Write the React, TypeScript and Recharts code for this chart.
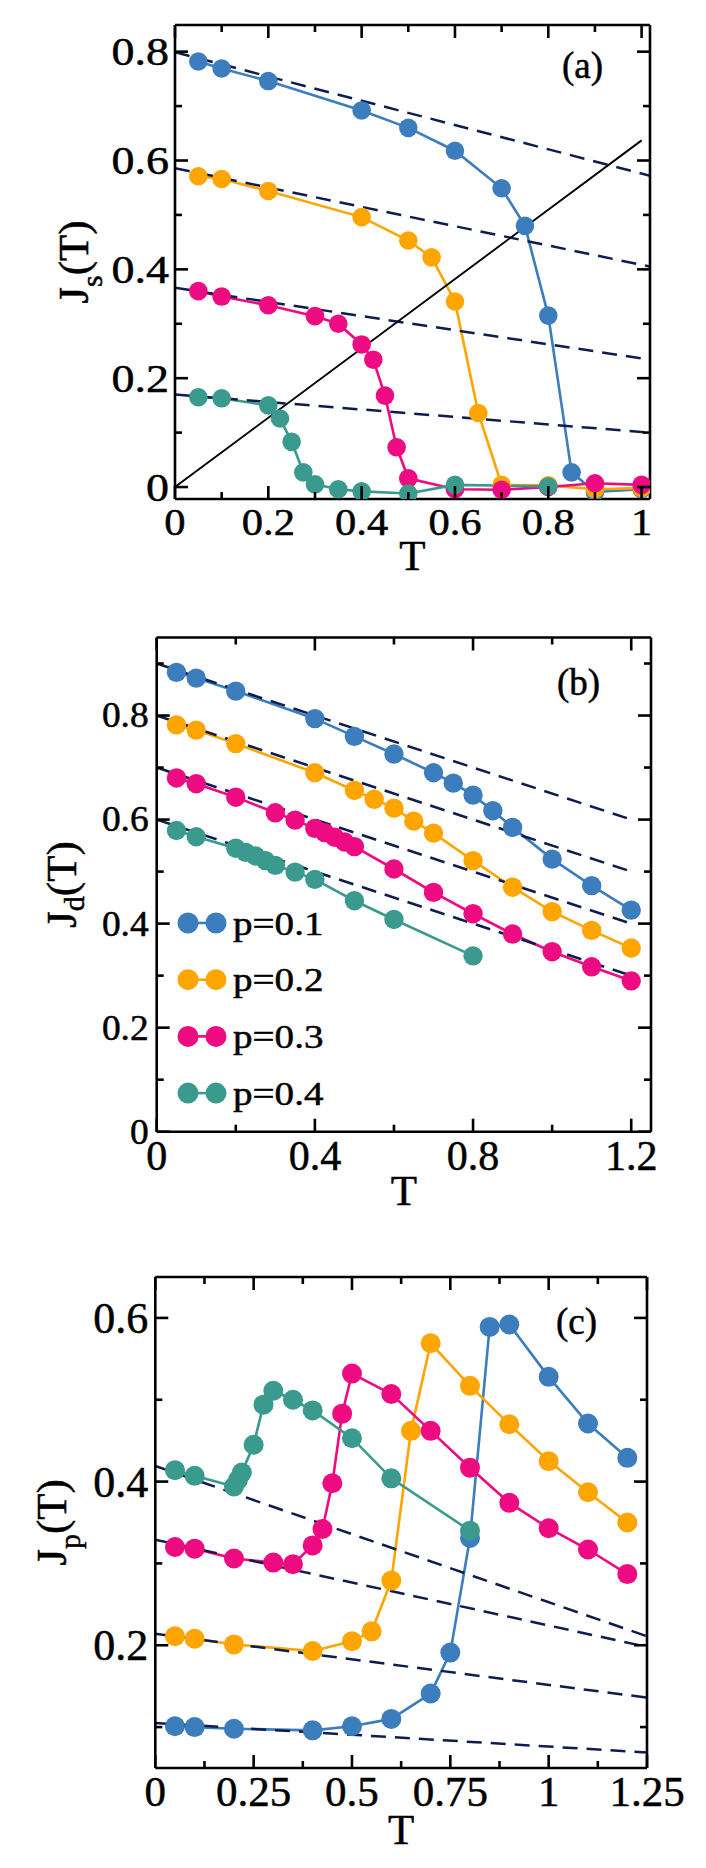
import React from 'react';
import { LineChart, Line, XAxis, YAxis, Legend } from 'recharts';

const FONT = "'Liberation Serif', 'Times New Roman', Times, serif";
const COLORS = ['#3b7dbd', '#ffa500', '#ee0a80', '#3a9a8e'];
const NAVY = '#0d1d4f';
const SERIES = ['p=0.1', 'p=0.2', 'p=0.3', 'p=0.4'];

// ---------- Panel (a): J_s(T) ----------
const aT1 = [0.05, 0.1, 0.2, 0.4, 0.5, 0.6, 0.7, 0.75, 0.8, 0.85, 0.9, 1.0];
const aJ1 = [0.782, 0.769, 0.746, 0.692, 0.66, 0.618, 0.549, 0.48, 0.315, 0.027, -0.009, -0.004];
const aT2 = [0.05, 0.1, 0.2, 0.4, 0.5, 0.55, 0.6, 0.65, 0.7, 0.8, 0.9, 1.0];
const aJ2 = [0.571, 0.566, 0.544, 0.496, 0.453, 0.422, 0.341, 0.136, 0.004, 0.003, -0.004, -0.002];
const aT3 = [0.05, 0.1, 0.2, 0.3, 0.35, 0.4, 0.425, 0.45, 0.475, 0.5, 0.6, 0.7, 0.8, 0.9, 1.0];
const aJ3 = [0.36, 0.35, 0.334, 0.314, 0.3, 0.262, 0.234, 0.168, 0.073, 0.016, -0.004, -0.005, 0.0, 0.007, 0.004];
const aT4 = [0.05, 0.1, 0.2, 0.225, 0.25, 0.275, 0.3, 0.35, 0.4, 0.5, 0.6, 0.8];
const aJ4 = [0.165, 0.163, 0.15, 0.126, 0.083, 0.027, 0.005, -0.004, -0.008, -0.012, 0.004, 0.001];
const aDashT = [0, 1.018];
const aDash1 = [0.799, 0.572];
const aDash2 = [0.586, 0.405];
const aDash3 = [0.366, 0.234];
const aDash4 = [0.17, 0.1];
const aRefT = [0, 1];
const aRefJ = [0, 0.637];
const aXTicks = [0, 0.1, 0.2, 0.3, 0.4, 0.5, 0.6, 0.7, 0.8, 0.9, 1.0];
const aXLabels = [0, 0.2, 0.4, 0.6, 0.8, 1];
const aYTicks = [0, 0.1, 0.2, 0.3, 0.4, 0.5, 0.6, 0.7, 0.8];
const aYLabels = [0, 0.2, 0.4, 0.6, 0.8];

// ---------- Panel (b): J_d(T) ----------
const bT1 = [0.05, 0.1, 0.2, 0.4, 0.5, 0.6, 0.7, 0.75, 0.8, 0.85, 0.9, 1.0, 1.1, 1.2];
const bJ1 = [0.883, 0.872, 0.847, 0.794, 0.76, 0.726, 0.69, 0.67, 0.647, 0.617, 0.585, 0.524, 0.473, 0.426];
const bT2 = [0.05, 0.1, 0.2, 0.4, 0.5, 0.55, 0.6, 0.65, 0.7, 0.8, 0.9, 1.0, 1.1, 1.2];
const bJ2 = [0.782, 0.772, 0.746, 0.69, 0.656, 0.639, 0.622, 0.597, 0.574, 0.521, 0.47, 0.423, 0.387, 0.353];
const bT3 = [0.05, 0.1, 0.2, 0.3, 0.35, 0.4, 0.425, 0.45, 0.475, 0.5, 0.6, 0.7, 0.8, 0.9, 1.0, 1.1, 1.2];
const bJ3 = [0.68, 0.669, 0.643, 0.613, 0.599, 0.583, 0.575, 0.566, 0.557, 0.548, 0.505, 0.46, 0.419, 0.38, 0.346, 0.317, 0.29];
const bT4 = [0.05, 0.1, 0.2, 0.225, 0.25, 0.275, 0.3, 0.35, 0.4, 0.5, 0.6, 0.8];
const bJ4 = [0.579, 0.567, 0.545, 0.537, 0.53, 0.521, 0.512, 0.499, 0.485, 0.444, 0.408, 0.338];
const bDashT = [0, 1.2];
const bDash1 = [0.9, 0.6];
const bDash2 = [0.8, 0.5];
const bDash3 = [0.7, 0.4];
const bDash4 = [0.6, 0.3];
const bXTicks = [0, 0.2, 0.4, 0.6, 0.8, 1.0, 1.2];
const bXLabels = [0, 0.4, 0.8, 1.2];
const bYTicks = [0, 0.1, 0.2, 0.3, 0.4, 0.5, 0.6, 0.7, 0.8, 0.9];
const bYLabels = [0, 0.2, 0.4, 0.6, 0.8];

// ---------- Panel (c): J_p(T) ----------
const cT1 = [0.05, 0.1, 0.2, 0.4, 0.5, 0.6, 0.7, 0.75, 0.8, 0.85, 0.9, 1.0, 1.1, 1.2];
const cJ1 = [0.101, 0.1, 0.098, 0.096, 0.101, 0.11, 0.141, 0.191, 0.331, 0.589, 0.592, 0.528, 0.471, 0.429];
const cT2 = [0.05, 0.1, 0.2, 0.4, 0.5, 0.55, 0.6, 0.65, 0.7, 0.8, 0.9, 1.0, 1.1, 1.2];
const cJ2 = [0.211, 0.208, 0.201, 0.193, 0.205, 0.217, 0.279, 0.462, 0.569, 0.517, 0.47, 0.425, 0.387, 0.35];
const cT3 = [0.05, 0.1, 0.2, 0.3, 0.35, 0.4, 0.425, 0.45, 0.475, 0.5, 0.6, 0.7, 0.8, 0.9, 1.0, 1.1, 1.2];
const cJ3 = [0.32, 0.318, 0.306, 0.301, 0.299, 0.322, 0.342, 0.398, 0.483, 0.532, 0.507, 0.462, 0.417, 0.374, 0.343, 0.317, 0.287];
const cT4 = [0.05, 0.1, 0.2, 0.21, 0.22, 0.25, 0.275, 0.3, 0.35, 0.4, 0.5, 0.6, 0.8];
const cJ4 = [0.414, 0.407, 0.394, 0.402, 0.411, 0.445, 0.494, 0.511, 0.5, 0.487, 0.453, 0.404, 0.34];
const cDashT = [0, 1.25];
const cDash1 = [0.105, 0.069];
const cDash2 = [0.214, 0.136];
const cDash3 = [0.329, 0.198];
const cDash4 = [0.419, 0.211];
const cXTicks = [0, 0.125, 0.25, 0.375, 0.5, 0.625, 0.75, 0.875, 1.0, 1.125, 1.25];
const cXLabels = [0, 0.25, 0.5, 0.75, 1, 1.25];
const cYTicks = [0.1, 0.2, 0.3, 0.4, 0.5, 0.6];
const cYLabels = [0.2, 0.4, 0.6];

const pts = (xs: number[], ys: number[]) => xs.map((x, i) => ({ x, y: ys[i] }));
const isIn = (arr: number[], v: number) => arr.some((a) => Math.abs(a - v) < 1e-9);
const fmt = (v: number) => String(Number(v.toFixed(3)));

const MAJ = 13;
const MIN = 7;
const TW = 2.6;

const txtStyle = (size: number) => ({
  fontFamily: FONT,
  fontSize: `${size}px`,
  fill: '#000',
  stroke: '#000',
  strokeWidth: 0.5,
});

const bottomTick = (labels: number[], font: number, dy: number, sx: number) => (props: any) => {
  const { x, y, payload } = props;
  const major = isIn(labels, payload.value);
  return (
    <g>
      <line x1={x} x2={x} y1={y} y2={y - (major ? MAJ : MIN)} stroke="#000" strokeWidth={TW} />
      {major ? (
        <text transform={`translate(${x},${y + dy}) scale(${sx},1)`} textAnchor="middle" style={txtStyle(font)}>
          {fmt(payload.value)}
        </text>
      ) : null}
    </g>
  );
};
const topTick = (labels: number[]) => (props: any) => {
  const { x, y, payload } = props;
  const major = isIn(labels, payload.value);
  return <line x1={x} x2={x} y1={y} y2={y + (major ? MAJ : MIN)} stroke="#000" strokeWidth={TW} />;
};
const leftTick = (labels: number[], font: number, gap: number, sx: number) => (props: any) => {
  const { x, y, payload } = props;
  const major = isIn(labels, payload.value);
  return (
    <g>
      <line x1={x} x2={x + (major ? MAJ : MIN)} y1={y} y2={y} stroke="#000" strokeWidth={TW} />
      {major ? (
        <text transform={`translate(${x - gap},${y + font * 0.34}) scale(${sx},1)`} textAnchor="end" style={txtStyle(font)}>
          {fmt(payload.value)}
        </text>
      ) : null}
    </g>
  );
};
const rightTick = (labels: number[]) => (props: any) => {
  const { x, y, payload } = props;
  const major = isIn(labels, payload.value);
  return <line x1={x} x2={x - (major ? MAJ : MIN)} y1={y} y2={y} stroke="#000" strokeWidth={TW} />;
};

const YTitle = (props: any) => {
  const vb = props.viewBox || { x: 0, y: 0, width: 0, height: 0 };
  const bx = vb.x + vb.width - props.dx;
  const cy = vb.y + vb.height / 2;
  return (
    <text x={bx} y={cy} transform={`rotate(-90 ${bx} ${cy})`} textAnchor="middle" style={txtStyle(43)}>
      J
      <tspan dy={props.subDy} style={{ fontSize: '30px' }}>
        {props.sub}
      </tspan>
      <tspan dy={-props.subDy}>(T)</tspan>
    </text>
  );
};
const XTitle = (props: any) => {
  const vb = props.viewBox || { x: 0, y: 0, width: 0, height: 0 };
  return (
    <text x={vb.x + vb.width / 2} y={vb.y + props.dy} textAnchor="middle" style={txtStyle(43)}>
      T
    </text>
  );
};
const Tag = (props: any) => {
  const vb = props.viewBox || { x: 0, y: 0, width: 0, height: 0 };
  return (
    <text x={vb.x + vb.width - props.dx} y={vb.y + vb.height + props.dy} style={txtStyle(37)}>
      {props.text}
    </text>
  );
};

const LegendBox = () => (
  <svg width={220} height={240} style={{ overflow: 'visible', display: 'block' }}>
    {SERIES.map((name, i) => {
      const cy = 28 + i * 56.7;
      return (
        <g key={name}>
          <line x1={18} x2={46} y1={cy} y2={cy} stroke={COLORS[i]} strokeWidth={2.6} />
          <circle cx={18} cy={cy} r={10.5} fill={COLORS[i]} />
          <circle cx={46} cy={cy} r={10.5} fill={COLORS[i]} />
          <text transform={`translate(63,${cy + 11.5}) scale(1.15,1)`} style={txtStyle(34)}>
            {name}
          </text>
        </g>
      );
    })}
  </svg>
);

type Ser = { T: number[]; J: number[] };

type PanelProps = {
  top: number;
  height: number;
  margin: { top: number; right: number; bottom: number; left: number };
  xDomain: [number, number];
  yDomain: [number, number];
  xTicks: number[];
  xLabels: number[];
  yTicks: number[];
  yLabels: number[];
  series: Ser[];
  dashes: Ser[];
  refs?: Ser[];
  r: number;
  xFont: number;
  yFont: number;
  sx: number;
  ysx: number;
  xDy: number;
  yGap: number;
  sub: string;
  titleDx: number;
  subDy: number;
  xTitleDy: number;
  tag: string;
  tagDx: number;
  tagDy: number;
  legend?: boolean;
};

const Panel = (p: PanelProps) => (
  <div style={{ position: 'absolute', left: 0, top: p.top, width: 706, height: p.height }}>
    <LineChart
      width={706}
      height={p.height}
      margin={{ top: p.margin.top - 1, right: p.margin.right - 1, bottom: p.margin.bottom, left: p.margin.left }}
    >
      <XAxis
        xAxisId={0}
        type="number"
        dataKey="x"
        domain={p.xDomain}
        allowDataOverflow
        ticks={p.xTicks}
        interval={0}
        height={60}
        tickSize={0}
        tickMargin={0}
        tickLine={false}
        axisLine={{ stroke: '#000', strokeWidth: TW }}
        tick={bottomTick(p.xLabels, p.xFont, p.xDy, p.sx)}
        label={<XTitle dy={p.xTitleDy} />}
      />
      <XAxis
        xAxisId="top"
        orientation="top"
        type="number"
        dataKey="x"
        domain={p.xDomain}
        allowDataOverflow
        ticks={p.xTicks}
        interval={0}
        height={1}
        tickSize={0}
        tickMargin={0}
        tickLine={false}
        axisLine={{ stroke: '#000', strokeWidth: TW }}
        tick={topTick(p.xLabels)}
        label={<Tag text={p.tag} dx={p.tagDx} dy={p.tagDy} />}
      />
      <YAxis
        yAxisId={0}
        type="number"
        domain={p.yDomain}
        allowDataOverflow
        ticks={p.yTicks}
        interval={0}
        width={100}
        tickSize={0}
        tickMargin={0}
        tickLine={false}
        axisLine={{ stroke: '#000', strokeWidth: TW }}
        tick={leftTick(p.yLabels, p.yFont, p.yGap, p.ysx)}
        label={<YTitle sub={p.sub} dx={p.titleDx} subDy={p.subDy} />}
      />
      <YAxis
        yAxisId="right"
        orientation="right"
        type="number"
        domain={p.yDomain}
        allowDataOverflow
        ticks={p.yTicks}
        interval={0}
        width={1}
        tickSize={0}
        tickMargin={0}
        tickLine={false}
        axisLine={{ stroke: '#000', strokeWidth: TW }}
        tick={rightTick(p.yLabels)}
      />
      {p.series.map((s, i) => (
        <Line
          key={'s' + i}
          data={pts(s.T, s.J)}
          dataKey="y"
          name={SERIES[i]}
          stroke={COLORS[i]}
          strokeWidth={2.6}
          dot={{ r: p.r, fill: COLORS[i], stroke: 'none', strokeWidth: 0 }}
          activeDot={false}
          isAnimationActive={false}
          legendType="circle"
        />
      ))}
      {p.dashes.map((s, i) => (
        <Line
          key={'d' + i}
          data={pts(s.T, s.J)}
          dataKey="y"
          name={'fit' + i}
          stroke={NAVY}
          strokeWidth={2.5}
          strokeDasharray="15 9"
          dot={false}
          activeDot={false}
          isAnimationActive={false}
          legendType="none"
        />
      ))}
      {(p.refs || []).map((s, i) => (
        <Line
          key={'r' + i}
          data={pts(s.T, s.J)}
          dataKey="y"
          name={'ref' + i}
          stroke="#000"
          strokeWidth={1.9}
          dot={false}
          activeDot={false}
          isAnimationActive={false}
          legendType="none"
        />
      ))}
      {p.legend ? (
        <Legend
          layout="vertical"
          align="center"
          verticalAlign="middle"
          wrapperStyle={{ left: 170, top: 295, width: 220, height: 240 }}
          content={() => <LegendBox />}
        />
      ) : null}
    </LineChart>
  </div>
);

export default function App() {
  return (
    <div style={{ position: 'absolute', left: 0, top: 0, width: 706, height: 1868, background: '#fff' }}>
      <Panel
        top={0}
        height={600}
        margin={{ top: 25, right: 56, bottom: 41, left: 75 }}
        xDomain={[0, 1.018]}
        yDomain={[-0.022, 0.849]}
        xTicks={aXTicks}
        xLabels={aXLabels}
        yTicks={aYTicks}
        yLabels={aYLabels}
        series={[
          { T: aT1, J: aJ1 },
          { T: aT2, J: aJ2 },
          { T: aT3, J: aJ3 },
          { T: aT4, J: aJ4 },
        ]}
        dashes={[
          { T: aDashT, J: aDash1 },
          { T: aDashT, J: aDash2 },
          { T: aDashT, J: aDash3 },
          { T: aDashT, J: aDash4 },
        ]}
        refs={[{ T: aRefT, J: aRefJ }]}
        r={9.3}
        xFont={37}
        yFont={40}
        sx={1.15}
        ysx={1.15}
        xDy={36}
        yGap={6}
        sub="s"
        titleDx={87}
        subDy={14}
        xTitleDy={71}
        tag="(a)"
        tagDx={88}
        tagDy={53}
      />
      <Panel
        top={600}
        height={630}
        margin={{ top: 37.5, right: 55, bottom: 38.3, left: 56.7 }}
        xDomain={[0, 1.25]}
        yDomain={[0, 0.95]}
        xTicks={bXTicks}
        xLabels={bXLabels}
        yTicks={bYTicks}
        yLabels={bYLabels}
        series={[
          { T: bT1, J: bJ1 },
          { T: bT2, J: bJ2 },
          { T: bT3, J: bJ3 },
          { T: bT4, J: bJ4 },
        ]}
        dashes={[
          { T: bDashT, J: bDash1 },
          { T: bDashT, J: bDash2 },
          { T: bDashT, J: bDash3 },
          { T: bDashT, J: bDash4 },
        ]}
        r={9.7}
        xFont={42}
        yFont={35}
        sx={1}
        ysx={1.07}
        xDy={38}
        yGap={8}
        sub="d"
        titleDx={81}
        subDy={8}
        xTitleDy={73}
        tag="(b)"
        tagDx={94}
        tagDy={57}
        legend
      />
      <Panel
        top={1230}
        height={638}
        margin={{ top: 47, right: 59, bottom: 40, left: 55.3 }}
        xDomain={[0, 1.25]}
        yDomain={[0.05, 0.65]}
        xTicks={cXTicks}
        xLabels={cXLabels}
        yTicks={cYTicks}
        yLabels={cYLabels}
        series={[
          { T: cT1, J: cJ1 },
          { T: cT2, J: cJ2 },
          { T: cT3, J: cJ3 },
          { T: cT4, J: cJ4 },
        ]}
        dashes={[
          { T: cDashT, J: cDash1 },
          { T: cDashT, J: cDash2 },
          { T: cDashT, J: cDash3 },
          { T: cDashT, J: cDash4 },
        ]}
        r={10}
        xFont={43}
        yFont={44}
        sx={1}
        ysx={1}
        xDy={38}
        yGap={7}
        sub="p"
        titleDx={89}
        subDy={14}
        xTitleDy={76}
        tag="(c)"
        tagDx={91}
        tagDy={57}
      />
    </div>
  );
}
